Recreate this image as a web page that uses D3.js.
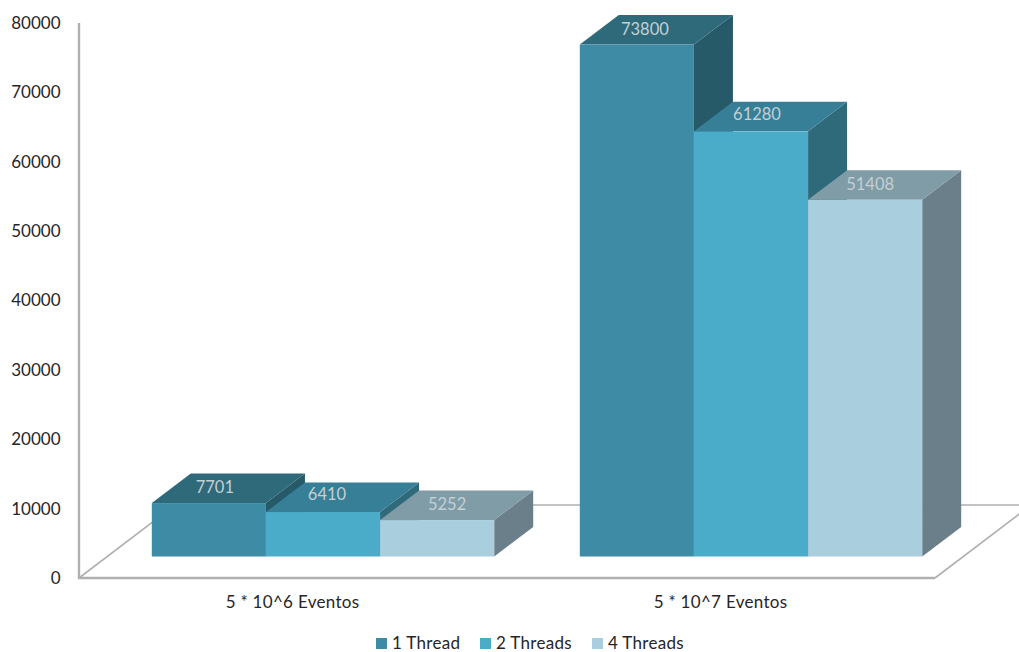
<!DOCTYPE html>
<html>
<head>
<meta charset="utf-8">
<script src="https://cdn.jsdelivr.net/npm/d3@7"></script>
<style>
  html, body { margin: 0; padding: 0; background: #fff; }
  svg { display: block; font-family: Lato, "Open Sans", sans-serif; }
</style>
</head>
<body>
<svg id="chart" width="1019" height="652"></svg>
<script>
const categories = ["5 * 10^6 Eventos", "5 * 10^7 Eventos"];
const seriesNames = ["1 Thread", "2 Threads", "4 Threads"];
const oneThread = [7701, 73800];
const twoThreads = [6410, 61280];
const fourThreads = [5252, 51408];
const yTicks = [0, 10000, 20000, 30000, 40000, 50000, 60000, 70000, 80000];

// Face shades per series: front, top, side
const faceColors = [
  { front: "#3e8ba5", top: "#2f6a7b", side: "#275a69" },
  { front: "#4aacc8", top: "#377f97", side: "#2f6a7a" },
  { front: "#a9cedd", top: "#809ca7", side: "#6a7f8a" }
];

// Oblique projection of the chart box
const floorY = 578;
const barBaseY = 556.5;
const depthX = 39, depthY = -29.5;
const wallX = 79, floorRightX = 935;
const floorDepthX = 96, floorDepthY = -73;

const svg = d3.select("#chart");

const y = d3.scaleLinear().domain([0, 80000]).range([floorY, 23]);
const barHeight = v => y(0) - y(v);

const group = d3.scaleBand().domain(categories).range([109, 965]).paddingInner(0.2).paddingOuter(0.1);
const inner = d3.scaleBand().domain(seriesNames).range([0, group.bandwidth()]);
const axisLabelX = d3.scaleBand().domain(categories).range([wallX - 0.5, floorRightX - 0.5]);

// Wall and floor outline
const lineColor = "#b0b0b0";
svg.append("path")
  .attr("d", `M${wallX},${floorY}L${wallX + floorDepthX},${floorY + floorDepthY}L${floorRightX + floorDepthX},${floorY + floorDepthY}L${floorRightX},${floorY}`)
  .attr("fill", "none").attr("stroke", lineColor).attr("stroke-width", 1.6);
svg.append("path")
  .attr("d", `M${wallX},23V${floorY}H${floorRightX}`)
  .attr("fill", "none").attr("stroke", lineColor).attr("stroke-width", 2.4);

// Value axis
const yAxis = svg.append("g")
  .attr("transform", "translate(60.5,0)")
  .call(d3.axisLeft(y).tickValues(yTicks).tickSize(0).tickPadding(0).tickFormat(d3.format("d")));
yAxis.select(".domain").remove();
yAxis.selectAll("text").attr("font-size", 17).attr("font-family", "Lato").attr("fill", "#262626");

// Category labels under the floor
svg.selectAll("text.category").data(categories).join("text")
  .attr("class", "category")
  .attr("x", d => axisLabelX(d) + axisLabelX.bandwidth() / 2)
  .attr("y", 602)
  .attr("dy", "0.35em")
  .attr("text-anchor", "middle")
  .attr("font-size", 17)
  .attr("letter-spacing", 0.3)
  .attr("fill", "#262626")
  .text(d => d);

// Bars, drawn left to right so each one covers the side of the one before it
const seriesValues = [oneThread, twoThreads, fourThreads];
// Small per-label adjustments so values sit clear of the top-face edges
const labelShift = [
  [[6, -15.5], [8, -15.5]],
  [[4, -18], [6, -17]],
  [[10, -16], [5, -16]]
];

categories.forEach((cat, ci) => {
  seriesNames.forEach((name, si) => {
    const v = seriesValues[si][ci];
    const x0 = group(cat) + inner(name);
    const w = inner.bandwidth();
    const top = barBaseY - barHeight(v);
    const c = faceColors[si];
    const bar = svg.append("g").attr("class", "bar");
    bar.append("path")
      .attr("d", `M${x0 + w},${top}l${depthX},${depthY}V${barBaseY + depthY}L${x0 + w},${barBaseY}Z`)
      .attr("fill", c.side);
    bar.append("path")
      .attr("d", `M${x0},${top}l${depthX},${depthY}h${w}l${-depthX},${-depthY}Z`)
      .attr("fill", c.top);
    bar.append("rect")
      .attr("x", x0).attr("y", top).attr("width", w).attr("height", barHeight(v))
      .attr("fill", c.front);
  });
});

// Value labels go on last so no later bar hides them
categories.forEach((cat, ci) => {
  seriesNames.forEach((name, si) => {
    const v = seriesValues[si][ci];
    const [sx, sy] = labelShift[si][ci];
    svg.append("text")
      .attr("x", group(cat) + inner(name) + inner.bandwidth() / 2 + sx)
      .attr("y", barBaseY - barHeight(v) + sy)
      .attr("dy", "0.35em")
      .attr("text-anchor", "middle")
      .attr("font-size", 16.5)
      .attr("fill", "#c3d0d4")
      .text(v);
  });
});

// Legend
const legendX = [376, 480, 592];
const legend = svg.selectAll("g.legend").data(seriesNames).join("g")
  .attr("class", "legend")
  .attr("transform", (d, i) => `translate(${legendX[i]},638)`);
legend.append("rect").attr("width", 11).attr("height", 11).attr("fill", (d, i) => faceColors[i].front);
legend.append("text")
  .attr("x", 16).attr("y", 5.5).attr("dy", "0.35em")
  .attr("font-size", 17)
  .attr("letter-spacing", 0.3)
  .attr("fill", "#262626")
  .text(d => d);
</script>
</body>
</html>
